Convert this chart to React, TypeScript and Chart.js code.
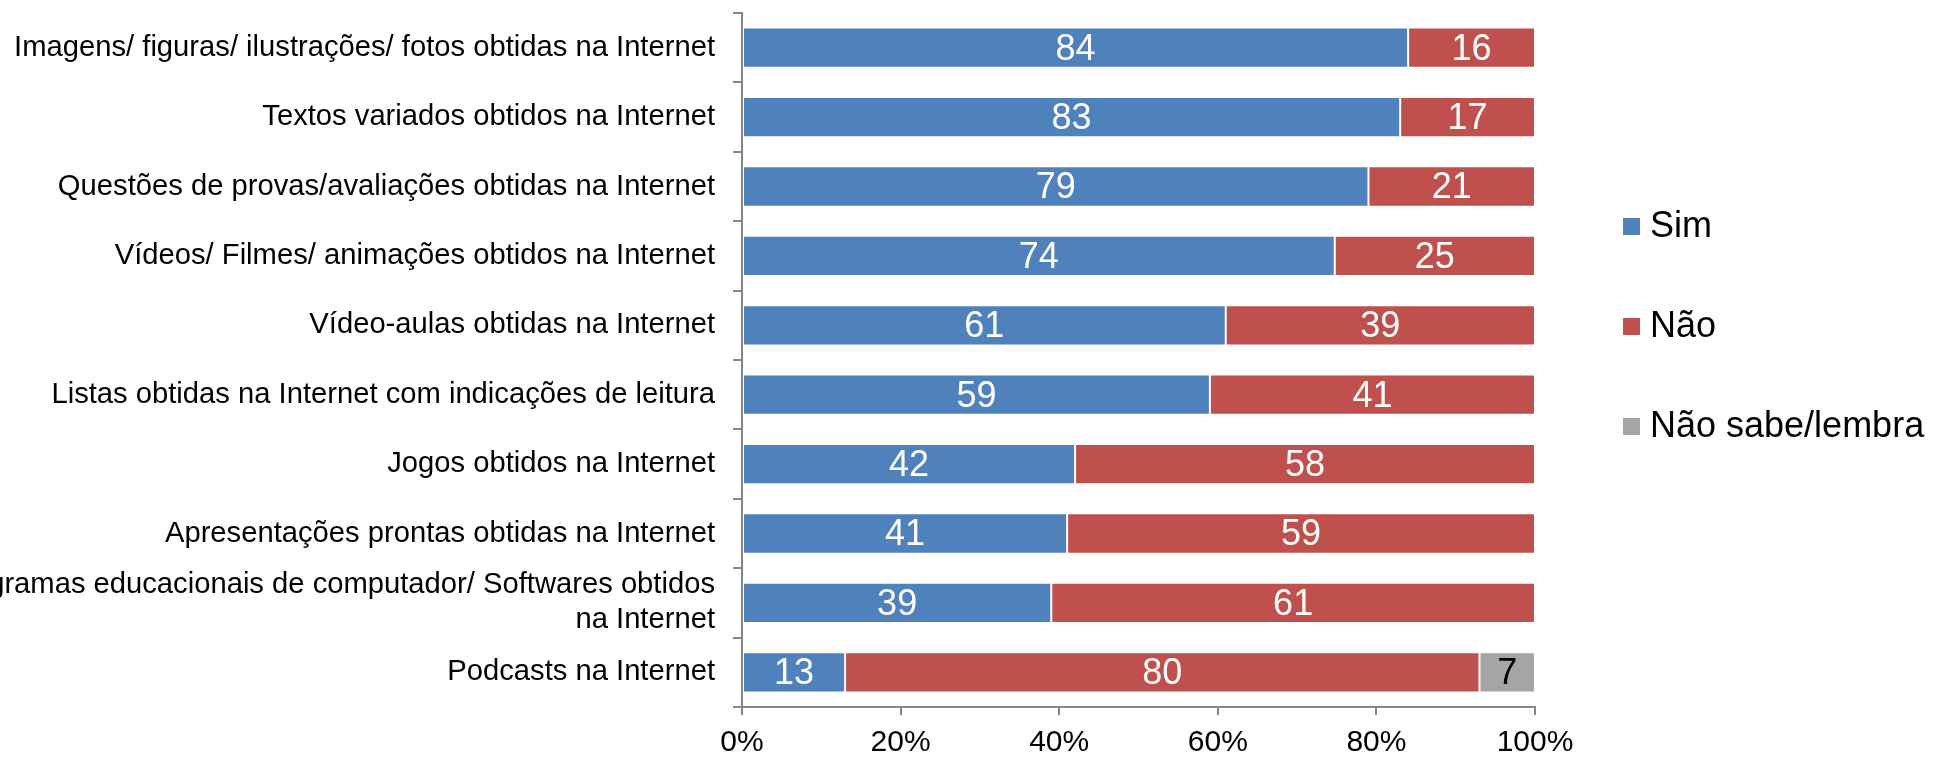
import { useEffect, useRef } from 'react';
import { Chart, registerables } from 'chart.js';

Chart.register(...registerables);

const FONT = '"Liberation Sans", Arial, sans-serif';

const categories: (string | string[])[] = [
  'Imagens/ figuras/ ilustrações/ fotos obtidas na Internet',
  'Textos variados obtidos na Internet',
  'Questões de provas/avaliações obtidas na Internet',
  'Vídeos/ Filmes/ animações obtidos na Internet',
  'Vídeo-aulas obtidas na Internet',
  'Listas obtidas na Internet com indicações de leitura',
  'Jogos obtidos na Internet',
  'Apresentações prontas obtidas na Internet',
  ['Programas educacionais de computador/ Softwares obtidos', 'na Internet'],
  'Podcasts na Internet',
];

const simValues = [84, 83, 79, 74, 61, 59, 42, 41, 39, 13];
const naoValues = [16, 17, 21, 25, 39, 41, 58, 59, 61, 80];
const nsValues = [0, 0, 0, 0, 0, 0, 0, 0, 0, 7];

const seriesNames = ['Sim', 'Não', 'Não sabe/lembra'];
const seriesColors = ['#4F81BD', '#C0504D', '#A5A5A5'];
const labelColors = ['#FFFFFF', '#FFFFFF', '#000000'];

const xTickStep = 20;

export default function App() {
  const ref = useRef<HTMLCanvasElement>(null);

  useEffect(() => {
    if (!ref.current) return;
    const rawSeries = [simValues, naoValues, nsValues];
    const totals = categories.map((_, i) => rawSeries.reduce((s, arr) => s + arr[i], 0));
    const pct = (arr: number[]) => arr.map((v, i) => (v === 0 ? null : (v / totals[i]) * 100));

    const dataLabels = {
      id: 'dataLabels',
      afterDatasetsDraw(chart: any) {
        const ctx = chart.ctx;
        ctx.save();
        ctx.font = `36px ${FONT}`;
        ctx.textAlign = 'center';
        ctx.textBaseline = 'middle';
        chart.data.datasets.forEach((ds: any, di: number) => {
          const meta = chart.getDatasetMeta(di);
          meta.data.forEach((el: any, i: number) => {
            const v = rawSeries[di][i];
            if (!v) return;
            const c = el.getCenterPoint();
            ctx.fillStyle = labelColors[di];
            ctx.fillText(String(v), c.x, c.y + 2);
          });
        });
        ctx.restore();
      },
    };

    const customLegend = {
      id: 'customLegend',
      afterDraw(chart: any) {
        const ctx = chart.ctx;
        const area = chart.chartArea;
        const cy = (area.top + area.bottom) / 2 - 34;
        const spacing = 100;
        const x0 = area.right + 88;
        ctx.save();
        ctx.font = `36px ${FONT}`;
        ctx.textAlign = 'left';
        ctx.textBaseline = 'middle';
        seriesNames.forEach((name, i) => {
          const y = cy + (i - 1) * spacing;
          ctx.fillStyle = seriesColors[i];
          ctx.fillRect(x0, y - 8, 17, 17);
          ctx.fillStyle = '#000000';
          ctx.fillText(name, x0 + 27, y + 1);
        });
        ctx.restore();
      },
    };

    const chart = new Chart(ref.current, {
      type: 'bar',
      data: {
        labels: categories as any,
        datasets: rawSeries.map((arr, i) => ({
          label: seriesNames[i],
          data: pct(arr),
          backgroundColor: seriesColors[i],
          borderColor: '#FFFFFF',
          borderWidth: 1,
          borderSkipped: false,
          barPercentage: 0.58,
          categoryPercentage: 1,
        })),
      },
      options: {
        responsive: false,
        animation: false,
        indexAxis: 'y',
        layout: { padding: { left: 0, right: 400, top: 13, bottom: 0 } },
        plugins: {
          legend: { display: false },
          tooltip: { enabled: false },
        },
        scales: {
          y: {
            type: 'category',
            stacked: true,
            afterFit: (s: any) => {
              s.width = 742;
              s.paddingTop = 0;
              s.paddingBottom = 0;
            },
            grid: {
              display: true,
              offset: true,
              drawOnChartArea: false,
              drawTicks: true,
              tickLength: 9,
              color: '#868686',
              lineWidth: 2,
            },
            border: { display: true, color: '#868686', width: 2 },
            ticks: {
              autoSkip: false,
              color: '#000000',
              padding: 18,
              font: { family: FONT, size: 29.2 },
            },
          },
          x: {
            type: 'linear',
            stacked: true,
            min: 0,
            max: 100,
            afterFit: (s: any) => {
              s.height = 51;
              s.paddingLeft = 0;
              s.paddingRight = 0;
            },
            grid: {
              display: true,
              drawOnChartArea: false,
              drawTicks: true,
              tickLength: 8,
              color: '#868686',
              lineWidth: 2,
            },
            border: { display: true, color: '#868686', width: 2 },
            ticks: {
              stepSize: xTickStep,
              color: '#000000',
              padding: 10,
              font: { family: FONT, size: 30 },
              callback: (v: any) => `${v}%`,
            },
          },
        },
      },
      plugins: [dataLabels, customLegend],
    });
    return () => chart.destroy();
  }, []);

  return (
    <div style={{ position: 'absolute', left: 0, top: 0, width: 1935, height: 758, background: '#fff' }}>
      <canvas ref={ref} width={1935} height={758} style={{ display: 'block', width: 1935, height: 758 }} />
    </div>
  );
}
